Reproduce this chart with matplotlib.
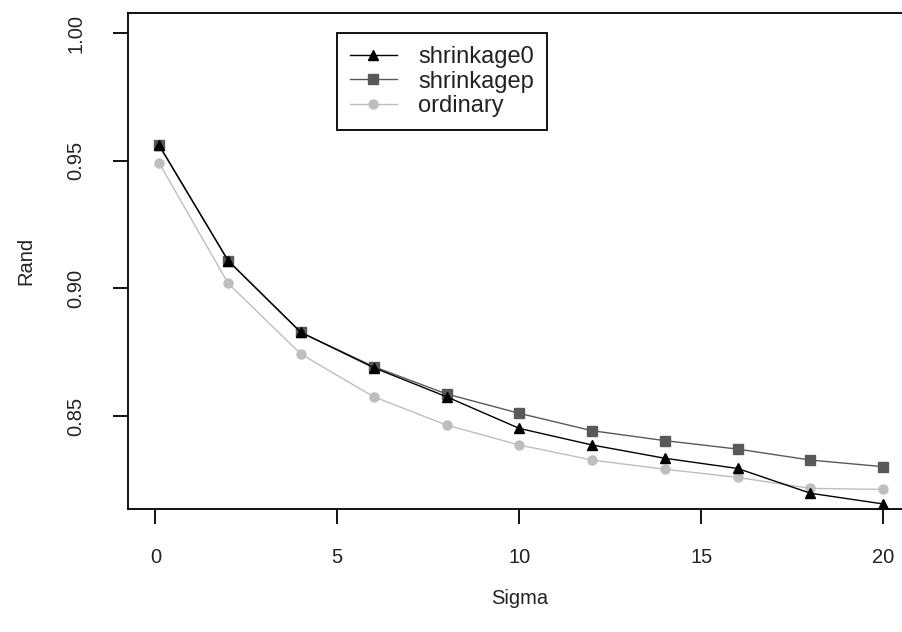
import numpy as np
import matplotlib.pyplot as plt

plt.rcParams['font.family'] = ['Liberation Sans', 'DejaVu Sans']

## Data
sigma = [0.1, 2, 4, 6, 8, 10, 12, 14, 16, 18, 20]
shrinkage0 = [0.9562, 0.9109, 0.8828, 0.8690, 0.8576, 0.8452, 0.8387,
              0.8335, 0.8295, 0.8198, 0.8156]
shrinkagep = [0.9562, 0.9109, 0.8828, 0.8694, 0.8587, 0.8511, 0.8443,
              0.8404, 0.8371, 0.8328, 0.8302]
ordinary = [0.9493, 0.9020, 0.8743, 0.8576, 0.8465, 0.8387, 0.8328,
            0.8292, 0.8260, 0.8217, 0.8213]

xticks = [0, 5, 10, 15, 20]
yticks = [0.85, 0.90, 0.95, 1.00]

FS = 14.5
LEGFS = 17

fig = plt.figure(figsize=(9.03, 6.32), dpi=100, facecolor="white")
# plot region runs a little past the right edge of the picture, as in the original
ax = fig.add_axes([0.1421, 0.1941, 1.01 - 0.1421, 0.979 - 0.1941])

ax.plot(sigma, shrinkage0, c="black", lw=1.0, marker="^", ms=7.5,
        mfc="black", mec="black", label="shrinkage0", zorder=3)
ax.plot(sigma, shrinkagep, c="#595959", lw=1.0, marker="s", ms=7.2,
        mfc="#595959", mec="#595959", label="shrinkagep", zorder=2)
ax.plot(sigma, ordinary, c="#bebebe", lw=1.0, marker="o", ms=6.5,
        mfc="#bebebe", mec="#bebebe", label="ordinary", zorder=1)

ax.set_xlim(-0.742, 20.79)
ax.set_ylim(0.8135, 1.0078)
ax.set_xticks(xticks)
ax.set_xticklabels([str(t) for t in xticks])
ax.set_yticks(yticks)
ax.set_yticklabels(["{:.2f}".format(t) for t in yticks], rotation=90, va="center")

for s in ax.spines.values():
  s.set_linewidth(1.3)
  s.set_color("black")
ax.tick_params(direction="out", length=11, width=1.3, labelsize=FS,
               labelcolor="#222222")
ax.tick_params(axis="x", pad=17)
ax.tick_params(axis="y", pad=20)

ax.set_xlabel("Sigma", fontsize=FS, labelpad=16, color="#222222")
ax.set_ylabel("Rand", fontsize=FS, labelpad=22, color="#222222")

leg = ax.legend(loc="upper left", bbox_to_anchor=(0.3729, 0.9473),
                bbox_transform=fig.transFigure, borderaxespad=0,
                fontsize=LEGFS, fancybox=False, framealpha=1,
                edgecolor="black", handlelength=2.0, handletextpad=0.9,
                labelspacing=0.1, borderpad=0.55)
leg.get_frame().set_linewidth(1.3)
for t in leg.get_texts():
  t.set_color("#222222")

fig.savefig("out.png", dpi=100)
